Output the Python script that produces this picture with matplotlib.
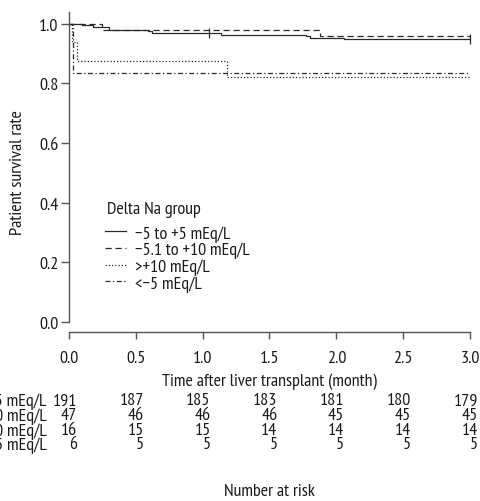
import matplotlib
matplotlib.use('Agg')
import matplotlib.pyplot as plt
import matplotlib.transforms as mtransforms

plt.rcParams['font.family'] = ['PT Sans Narrow', 'Roboto Condensed', 'DejaVu Sans']
plt.rcParams['font.size'] = 13

# data
groups = ['\u22125 to +5 mEq/L', '\u22125.1 to +10 mEq/L', '>+10 mEq/L', '<\u22125 mEq/L']
styles = ['-', (0, (5, 3)), (0, (1, 1.6)), (0, (4, 2, 1, 2))]

t_a = [0, 0.10, 0.18, 0.30, 0.59, 0.62, 1.14, 1.77, 1.80, 2.06, 3.0]
s_a = [1.0, 0.995, 0.990, 0.979, 0.974, 0.969, 0.963, 0.958, 0.953, 0.948, 0.948]
t_b = [0, 0.25, 1.88, 3.0]
s_b = [1.0, 0.979, 0.957, 0.957]
t_c = [0, 0.02, 0.058, 1.18, 3.0]
s_c = [1.0, 0.9375, 0.875, 0.82, 0.82]
t_d = [0, 0.028, 3.0]
s_d = [1.0, 0.833, 0.833]

censor_t = [1.05, 3.0]
censor_s = [0.969, 0.948]

risk_times = [0, 0.5, 1.0, 1.5, 2.0, 2.5, 3.0]
risk_a = [191, 187, 185, 183, 181, 180, 179]
risk_b = [47, 46, 46, 46, 45, 45, 45]
risk_c = [16, 15, 15, 14, 14, 14, 14]
risk_d = [6, 5, 5, 5, 5, 5, 5]

line_col = '#2a2a2a'
txt_col = '#1a1a1a'

fig = plt.figure(figsize=(4.81, 5.02), dpi=100)
ax = fig.add_axes([69/481, (502-333)/502, 401/481, 320/502])

curves = [(t_a, s_a), (t_b, s_b), (t_c, s_c), (t_d, s_d)]
for (t, s), ls, lab in zip(curves, styles, groups):
    ax.step(t, s, where='post', color=line_col, lw=0.9, linestyle=ls, label=lab)

ax.plot(censor_t, censor_s, linestyle='none', marker='|', markersize=7,
        markeredgewidth=0.9, color=line_col, clip_on=False)

ax.set_xlim(0, 3.0)
ax.set_ylim(-0.0334, 1.039)
ax.set_xticks(risk_times)
ax.set_xticklabels(['0.0', '0.5', '1.0', '1.5', '2.0', '2.5', '3.0'])
ax.set_yticks([0, 0.2, 0.4, 0.6, 0.8, 1.0])
ax.set_yticklabels(['0.0', '0.2', '0.4', '0.6', '0.8', '1.0'])

for side in ['top', 'right']:
    ax.spines[side].set_visible(False)
ax.spines['left'].set_bounds(0, 1.039)
for side in ['left', 'bottom']:
    ax.spines[side].set_color('#555555')
    ax.spines[side].set_linewidth(1.0)
ax.tick_params(axis='x', length=5, width=1.0, color='#555555', pad=8, labelcolor=txt_col)
ax.tick_params(axis='y', length=5.5, width=1.0, color='#555555', pad=2, labelcolor=txt_col)

ax.set_ylabel('Patient survival rate', color=txt_col)
ax.yaxis.set_label_coords(-0.107, 0.5)
ax.set_xlabel('Time after liver transplant (month)', color=txt_col)
ax.xaxis.set_label_coords(0.5, -0.153)
ax.xaxis.label.set_va('center')

# legend (title drawn as separate text for spacing)
ax.text(0.095, 0.384, 'Delta Na group', transform=ax.transAxes, ha='left', va='center',
        color=txt_col)
leg = ax.legend(loc='upper left', bbox_to_anchor=(0.0898, 0.334),
                frameon=False, borderpad=0, borderaxespad=0, handlelength=1.15,
                handletextpad=0.5, labelspacing=0.0, fontsize=13)
for t in leg.get_texts():
    t.set_color(txt_col)

# number at risk table
trans = mtransforms.blended_transform_factory(ax.transData, fig.transFigure)
rows_y = [401.5, 416.5, 431.5, 445.5]
for lab, row, yp in zip(groups, [risk_a, risk_b, risk_c, risk_d], rows_y):
    yf = 1 - yp/502
    ax.text(-0.165, yf, lab, transform=trans, ha='right', va='center', color=txt_col,
            clip_on=False)
    for tx, n in zip(risk_times, row):
        ax.text(tx + 0.06, yf, str(n), transform=trans, ha='right', va='center',
                color=txt_col, clip_on=False)

fig.text((69+470)/2/481, 1 - 492/502, 'Number at risk', ha='center', va='center', color=txt_col)

fig.savefig('out.png', dpi=100, facecolor='white')
